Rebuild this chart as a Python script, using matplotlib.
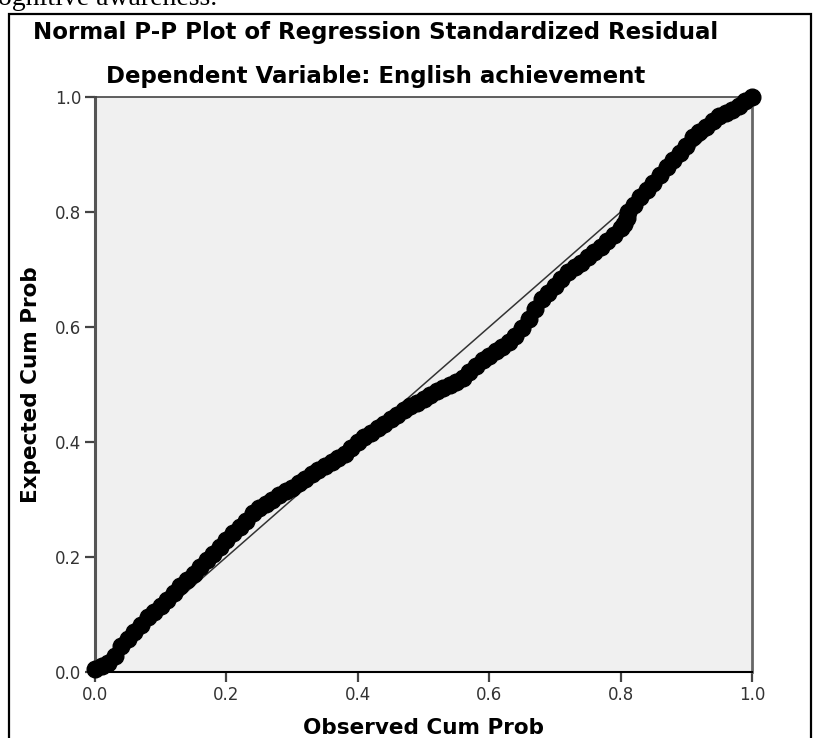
import matplotlib.pyplot as plt
import matplotlib.patches as patches

# observed cumulative probability vs expected cumulative probability
observed = [0.00, 0.01, 0.02, 0.03, 0.04, 0.05, 0.06, 0.07, 0.08, 0.09,
            0.10, 0.11, 0.12, 0.13, 0.14, 0.15, 0.16, 0.17, 0.18, 0.19,
            0.20, 0.21, 0.22, 0.23, 0.24, 0.25, 0.26, 0.27, 0.28, 0.29,
            0.30, 0.31, 0.32, 0.33, 0.34, 0.35, 0.36, 0.37, 0.38, 0.39,
            0.40, 0.41, 0.42, 0.43, 0.44, 0.45, 0.46, 0.47, 0.48, 0.49,
            0.50, 0.51, 0.52, 0.53, 0.54, 0.55, 0.56, 0.57, 0.58, 0.59,
            0.60, 0.61, 0.62, 0.63, 0.64, 0.65, 0.66, 0.67, 0.68, 0.69,
            0.70, 0.71, 0.72, 0.73, 0.74, 0.75, 0.76, 0.77, 0.78, 0.79,
            0.80, 0.805, 0.81, 0.812, 0.82, 0.83, 0.84, 0.85, 0.86, 0.87,
            0.88, 0.89, 0.90, 0.91, 0.92, 0.93, 0.94, 0.95, 0.96, 0.97,
            0.98, 0.99, 1.00]
expected = [0.005, 0.010, 0.015, 0.028, 0.045, 0.058, 0.070, 0.082, 0.096, 0.105,
            0.115, 0.126, 0.138, 0.150, 0.160, 0.170, 0.182, 0.194, 0.205, 0.218,
            0.230, 0.242, 0.252, 0.263, 0.276, 0.285, 0.292, 0.300, 0.307, 0.314,
            0.320, 0.328, 0.336, 0.345, 0.352, 0.358, 0.365, 0.372, 0.380, 0.390,
            0.400, 0.408, 0.415, 0.424, 0.432, 0.440, 0.447, 0.455, 0.462, 0.468,
            0.475, 0.482, 0.488, 0.494, 0.500, 0.505, 0.512, 0.522, 0.533, 0.542,
            0.550, 0.558, 0.566, 0.574, 0.585, 0.598, 0.614, 0.632, 0.648, 0.660,
            0.672, 0.684, 0.695, 0.704, 0.712, 0.722, 0.730, 0.740, 0.750, 0.760,
            0.772, 0.780, 0.790, 0.800, 0.812, 0.826, 0.838, 0.850, 0.864, 0.878,
            0.890, 0.903, 0.915, 0.930, 0.940, 0.948, 0.958, 0.967, 0.973, 0.978,
            0.985, 0.993, 1.000]
ticks = [0.0, 0.2, 0.4, 0.6, 0.8, 1.0]
tick_labels = ['0.0', '0.2', '0.4', '0.6', '0.8', '1.0']

W, H = 813, 738
fig = plt.figure(figsize=(W / 100, H / 100), dpi=100)
ax = fig.add_axes([95 / W, 1 - 672 / H, (752 - 95) / W, (672 - 97) / H])
ax.set_facecolor('#f0f0f0')

# diagonal reference line
ax.plot([0, 1], [0, 1], color='#333333', linewidth=1.1, zorder=2)
ax.plot(observed, expected, 'o', color='black', markersize=12,
        markeredgewidth=1, zorder=3, clip_on=False)

ax.set_xlim(0, 1)
ax.set_ylim(0, 1)
ax.set_xticks(ticks)
ax.set_xticklabels(tick_labels)
ax.set_yticks(ticks)
ax.set_yticklabels(tick_labels)
ax.tick_params(length=7, width=1.6, color='#444444', labelsize=12,
               labelcolor='#333333', pad=3)

ax.spines['left'].set_color('#555555')
ax.spines['left'].set_linewidth(2.2)
ax.spines['right'].set_color('#666666')
ax.spines['right'].set_linewidth(2.0)
ax.spines['bottom'].set_color('black')
ax.spines['bottom'].set_linewidth(1.5)
ax.spines['top'].set_color('#444444')
ax.spines['top'].set_linewidth(1.2)

ax.set_xlabel('Observed Cum Prob', fontsize=15.5, fontweight='bold', labelpad=10)
ax.set_ylabel('Expected Cum Prob', fontsize=15.5, fontweight='bold', labelpad=10)

fig.text(376 / W, 1 - 32 / H, 'Normal P-P Plot of Regression Standardized Residual',
         ha='center', va='center', fontsize=16.5, fontweight='bold')
fig.text(376 / W, 1 - 77 / H, 'Dependent Variable: English achievement',
         ha='center', va='center', fontsize=16.5, fontweight='bold')

# cropped line of document text above the chart
fig.text(-2 / W, 1 - 5 / H, 'ognitive awareness.', ha='left', va='baseline',
         fontsize=20, family='Liberation Serif')

# frame around the chart
fig.patches.append(patches.Rectangle((8.5 / W, -0.05), (811 - 8.5) / W, 1.05 - 13.5 / H,
                                     transform=fig.transFigure, fill=False,
                                     edgecolor='black', linewidth=1.6))

fig.savefig('out.png', dpi=100)
